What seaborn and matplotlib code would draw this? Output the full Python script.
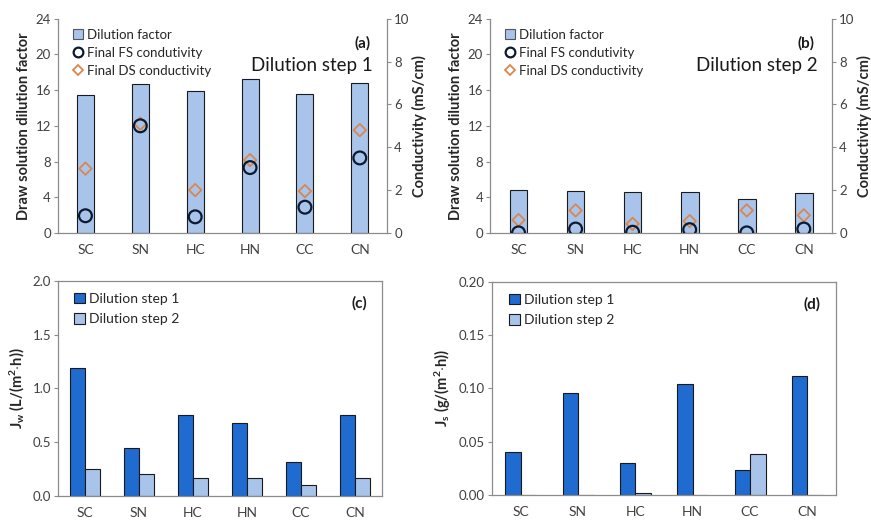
import matplotlib
matplotlib.use('Agg')
import matplotlib.pyplot as plt
import seaborn as sns
import numpy as np
import pandas as pd
from matplotlib.patches import Patch
from matplotlib.lines import Line2D

sns.set_style('white')
plt.rcParams['font.family'] = ['Lato', 'DejaVu Sans']
plt.rcParams['mathtext.fontset'] = 'custom'
plt.rcParams['mathtext.rm'] = 'Lato'
plt.rcParams['mathtext.bf'] = 'Lato:bold'
plt.rcParams['mathtext.it'] = 'Lato:italic'

samples = ['SC', 'SN', 'HC', 'HN', 'CC', 'CN']

# dilution step 1
dil1 = [15.4, 16.7, 15.9, 17.3, 15.6, 16.8]
fs1 = [0.80, 5.00, 0.75, 3.05, 1.20, 3.50]
ds1 = [3.00, 5.10, 2.00, 3.40, 1.95, 4.80]

# dilution step 2
dil2 = [4.8, 4.7, 4.6, 4.6, 3.8, 4.5]
fs2 = [0.00, 0.18, 0.03, 0.15, 0.00, 0.18]
ds2 = [0.60, 1.05, 0.42, 0.55, 1.05, 0.82]

# water flux and reverse salt flux
jw1 = [1.19, 0.45, 0.75, 0.68, 0.32, 0.75]
jw2 = [0.25, 0.20, 0.17, 0.165, 0.105, 0.17]
js1 = [0.040, 0.096, 0.030, 0.104, 0.023, 0.112]
js2 = [0.0, 0.0, 0.0015, 0.0, 0.038, 0.0]

light = '#a9c4eb'
dark = '#1f6bd0'
orange = '#d9874f'
navy = '#0b1a2e'
spine_c = '#8c8c8c'
tick_c = '#404040'

fig = plt.figure(figsize=(8.71, 5.21), dpi=100)


def style_axis(ax):
    ax.tick_params(axis='y', direction='out', length=3, color=spine_c,
                   labelsize=9.5, labelcolor=tick_c, pad=2, left=True)
    ax.tick_params(axis='x', length=0, labelsize=10, labelcolor=tick_c, pad=8)
    for s in ax.spines.values():
        s.set_color(spine_c)
        s.set_linewidth(0.9)


def top_panel(rect, dil, fs, ds, tag, step):
    ax = fig.add_axes(rect)
    df = pd.DataFrame({'sample': samples, 'dil': dil})
    sns.barplot(data=df, x='sample', y='dil', ax=ax, color=light,
                edgecolor='#1a1a1a', linewidth=0.8, width=0.31, saturation=1)
    ax.set_ylim(0, 24)
    ax.set_yticks(range(0, 25, 4))
    ax.set_xlim(-0.5, 5.5)
    ax.set_xlabel('')
    ax.set_ylabel('Draw solution dilution factor', fontweight='bold',
                  fontsize=10.5, labelpad=3)
    style_axis(ax)
    ax.spines['top'].set_visible(False)
    ax.spines['right'].set_visible(False)

    ax2 = ax.twinx()
    pos = np.arange(len(samples))
    sns.scatterplot(x=pos, y=ds, ax=ax2, marker='D', s=40,
                    facecolor='none', edgecolor=orange, linewidth=1.3, zorder=3)
    sns.scatterplot(x=pos, y=fs, ax=ax2, marker='o', s=85,
                    facecolor='none', edgecolor=navy, linewidth=1.6, zorder=4)
    ax2.set_ylim(0, 10)
    ax2.set_yticks(range(0, 11, 2))
    ax2.set_ylabel('Conductivity (mS/cm)', fontweight='bold', fontsize=10.5,
                   labelpad=2)
    ax2.tick_params(axis='y', direction='out', length=3, color=spine_c,
                    labelsize=9.5, labelcolor=tick_c, pad=2, right=True)
    for s in ax2.spines.values():
        s.set_visible(False)
    ax2.spines['right'].set_visible(True)
    ax2.spines['right'].set_color(spine_c)
    ax2.spines['right'].set_linewidth(0.9)

    handles = [
        Patch(facecolor=light, edgecolor='#555555', linewidth=0.8),
        Line2D([], [], marker='o', ls='none', mfc='none', mec=navy,
               mew=1.6, ms=7),
        Line2D([], [], marker='D', ls='none', mfc='none', mec=orange,
               mew=1.3, ms=5),
    ]
    labels = ['Dilution factor', 'Final FS condutivity', 'Final DS conductivity']
    ax2.legend(handles, labels, loc='upper left', bbox_to_anchor=(0.02, 0.99),
               frameon=False, fontsize=9.5, handlelength=0.8,
               handletextpad=0.3, labelspacing=0.45, borderaxespad=0.2,
               handleheight=0.8)
    ax2.text(0.948, 0.885, tag, transform=ax2.transAxes, ha='right',
             va='center', fontsize=11, fontweight='bold', color='#1a1a1a')
    ax2.text(0.957, 0.78, step, transform=ax2.transAxes, ha='right',
             va='center', fontsize=13.5, color='#1a1a1a')


def bottom_panel(rect, v1, v2, tag, ylab, ymax, yticks, fmt):
    ax = fig.add_axes(rect)
    df = pd.DataFrame({
        'sample': samples * 2,
        'value': v1 + v2,
        'step': ['Dilution step 1'] * 6 + ['Dilution step 2'] * 6,
    })
    sns.barplot(data=df, x='sample', y='value', hue='step', ax=ax,
                palette=[dark, light], edgecolor='#1a1a1a', linewidth=0.8,
                width=0.54, saturation=1, gap=0)
    ax.set_ylim(0, ymax)
    ax.set_yticks(yticks)
    ax.set_yticklabels([fmt.format(t) for t in yticks])
    ax.set_xlim(-0.5, 5.5)
    ax.set_xlabel('')
    ax.set_ylabel(ylab, fontsize=10.5, labelpad=4)
    style_axis(ax)
    ax.legend(loc='upper left', bbox_to_anchor=(0.02, 0.99), frameon=False,
              fontsize=10, handlelength=0.8, handleheight=0.8,
              handletextpad=0.3, labelspacing=0.6, borderaxespad=0.3)
    ax.text(0.955, 0.895, tag, transform=ax.transAxes, ha='right',
            va='center', fontsize=11, fontweight='bold', color='#1a1a1a')


top_panel([0.0666, 0.553, 0.378, 0.411], dil1, fs1, ds1, '(a)', 'Dilution step 1')
top_panel([0.5626, 0.553, 0.393, 0.411], dil2, fs2, ds2, '(b)', 'Dilution step 2')
bottom_panel([0.0666, 0.048, 0.372, 0.413], jw1, jw2, '(c)',
             r'$\mathbf{J_{w}}$ $\mathbf{(L/(m^{2}}$$\mathbf{\cdot h))}$',
             2.0, [0, 0.5, 1.0, 1.5, 2.0], '{:.1f}')
bottom_panel([0.5649, 0.050, 0.395, 0.409], js1, js2, '(d)',
             r'$\mathbf{J_{s}}$ $\mathbf{(g/(m^{2}}$$\mathbf{\cdot h))}$',
             0.20, [0, 0.05, 0.10, 0.15, 0.20], '{:.2f}')

fig.savefig('out.png', dpi=100)
